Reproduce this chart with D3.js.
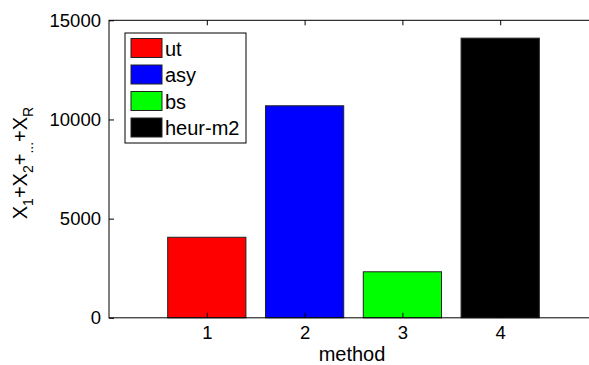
<!DOCTYPE html>
<html>
<head>
<meta charset="utf-8">
<script src="https://cdn.jsdelivr.net/npm/d3@7"></script>
<style>
  body { margin: 0; background: #fff; }
  text { font-family: "Liberation Sans", Arial, sans-serif; fill: #000; }
</style>
</head>
<body>
<div id="chart"></div>
<script>
// data
var methods = [1, 2, 3, 4];
var seriesNames = ["ut", "asy", "bs", "heur-m2"];
var values = [4060, 10690, 2320, 14100];
var barColors = ["#ff0000", "#0000ff", "#00ff00", "#000000"];
var yTicks = [0, 5000, 10000, 15000];

var width = 589, height = 365;
var margin = { top: 20, left: 109, bottom: 47 };
var plotRight = 598; // axes box runs past the right edge of the picture

var svg = d3.select("#chart")
    .append("svg")
    .attr("width", width)
    .attr("height", height);

svg.append("rect").attr("width", width).attr("height", height).attr("fill", "#fff");

var x = d3.scaleLinear()
    .domain([0, 5])
    .range([margin.left, plotRight]);

var y = d3.scaleLinear()
    .domain([0, 15000])
    .range([height - margin.bottom - 0.2, margin.top + 0.3]);

var barW = x(0.8) - x(0);

// bars
svg.append("g")
    .selectAll("rect")
    .data(values)
    .enter()
    .append("rect")
    .attr("x", (d, i) => x(methods[i]) - barW / 2)
    .attr("y", d => y(d))
    .attr("width", barW)
    .attr("height", d => y(0) - y(d))
    .attr("fill", (d, i) => barColors[i])
    .attr("stroke", "#222")
    .attr("stroke-width", 1);

// axes box
svg.append("rect")
    .attr("x", x(0))
    .attr("y", y(15000))
    .attr("width", x(5) - x(0))
    .attr("height", y(0) - y(15000))
    .attr("fill", "none")
    .attr("stroke", "#000")
    .attr("stroke-width", 1);

// y axis, ticks pointing inward
var yAxis = svg.append("g")
    .attr("transform", "translate(" + x(0) + ",0)")
    .call(d3.axisLeft(y).tickValues(yTicks).tickFormat(d3.format("d"))
        .tickSizeInner(-5).tickSizeOuter(0).tickPadding(8));
yAxis.select(".domain").remove();
yAxis.selectAll("text").style("font-size", "18.5px");

// x axis
var xAxis = svg.append("g")
    .attr("transform", "translate(0," + y(0) + ")")
    .call(d3.axisBottom(x).tickValues(methods).tickFormat(d3.format("d"))
        .tickSizeInner(-5).tickSizeOuter(0).tickPadding(8));
xAxis.select(".domain").remove();
xAxis.selectAll("text").style("font-size", "18.5px");

// mirrored ticks on top
var xTop = svg.append("g")
    .attr("transform", "translate(0," + y(15000) + ")")
    .call(d3.axisTop(x).tickValues(methods).tickFormat("")
        .tickSizeInner(-5).tickSizeOuter(0));
xTop.select(".domain").remove();

svg.selectAll(".tick line").attr("stroke", "#000");

// axis labels
svg.append("text")
    .attr("x", 352)
    .attr("y", 361)
    .attr("text-anchor", "middle")
    .style("font-size", "20px")
    .text("method");

var yLabel = svg.append("text")
    .attr("transform", "translate(27,163) rotate(-90)")
    .attr("text-anchor", "middle")
    .style("font-size", "20px");
var parts = [["X", 0], ["1", 1], ["+", 0], ["X", 0], ["2", 1], ["+", 0], ["...", 1], ["+", 0], ["X", 0], ["R", 1]];
var level = 0;
parts.forEach(p => {
    var shift = p[1] == 1 ? 6 : 0;
    yLabel.append("tspan")
        .attr("dy", shift - level)
        .style("font-size", p[1] == 1 ? "14px" : "20px")
        .text(p[0]);
    level = shift;
});

// legend
var legend = svg.append("g").attr("transform", "translate(125,33)");
legend.append("rect")
    .attr("width", 121)
    .attr("height", 110)
    .attr("fill", "#fff")
    .attr("stroke", "#000")
    .attr("stroke-width", 1);

var item = legend.selectAll("g.item")
    .data(seriesNames)
    .enter()
    .append("g")
    .attr("class", "item")
    .attr("transform", (d, i) => "translate(0," + (5.5 + i * 26.5) + ")");
item.append("rect")
    .attr("x", 6)
    .attr("width", 31)
    .attr("height", 19)
    .attr("fill", (d, i) => barColors[i])
    .attr("stroke", "#222")
    .attr("stroke-width", 1);
item.append("text")
    .attr("x", 40)
    .attr("y", 17)
    .style("font-size", "20px")
    .text(d => d);
</script>
</body>
</html>
